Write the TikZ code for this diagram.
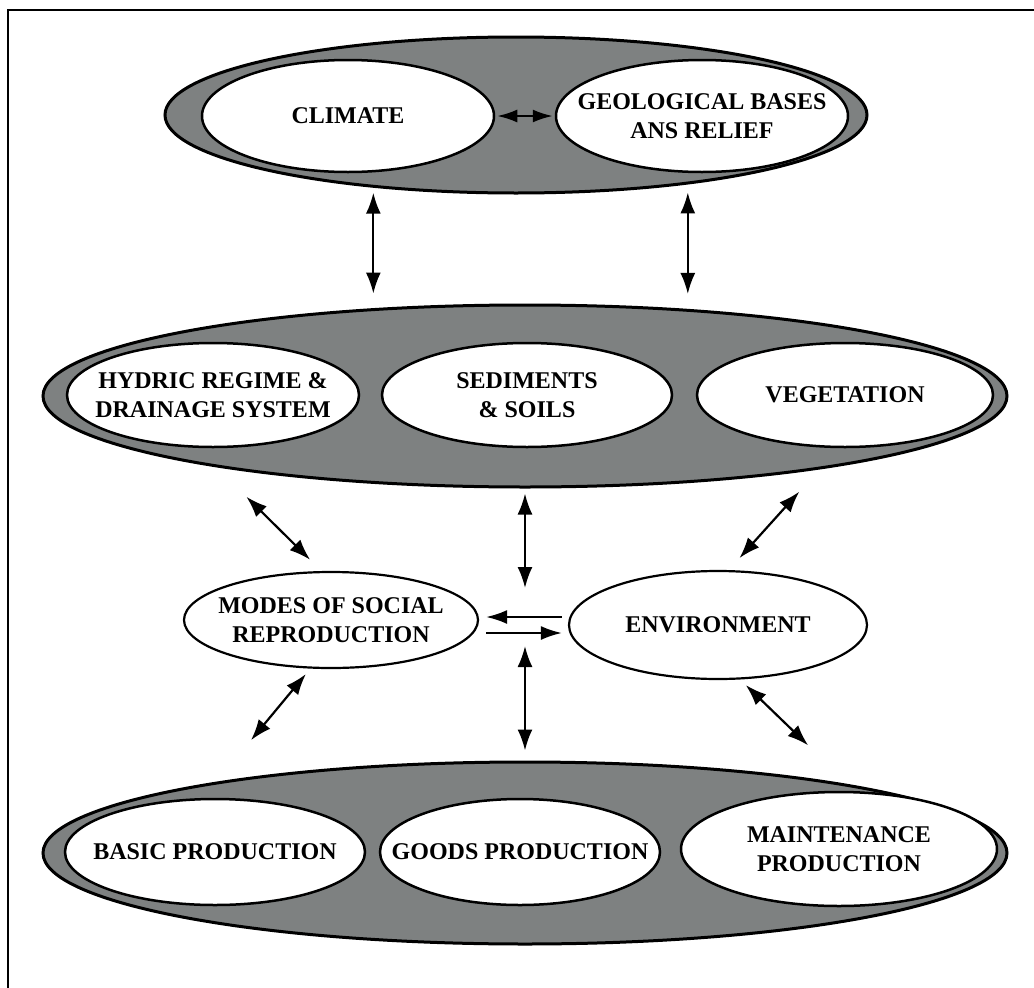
\documentclass[tikz,border=0pt]{standalone}
\usepackage{fontspec}
\setmainfont{Liberation Serif}
\usetikzlibrary{shapes.geometric,arrows.meta}
\definecolor{ringgray}{RGB}{126,129,129}
\begin{document}
\begin{tikzpicture}[x=1pt,y=-1pt,
  group/.style={ellipse, draw=black, line width=3pt, fill=ringgray, inner sep=0pt},
  item/.style={ellipse, draw=black, line width=2.5pt, fill=white, inner sep=0pt},
  lbl/.style={font=\fontsize{24}{29.5}\selectfont\bfseries, align=center, inner sep=0pt},
  arr/.style={{Latex[length=21pt,width=15pt]}-{Latex[length=21pt,width=15pt]}, line width=2.2pt},
  onearr/.style={-{Latex[length=21pt,width=14pt]}, line width=2.2pt}]
\useasboundingbox (0,0) rectangle (1034,988);
\fill[white] (0,0) rectangle (1034,988);
% frame
\draw[line width=2.8pt] (8,988) -- (8,10) -- (1034,10);

% top group
\node[group, minimum width=702pt, minimum height=156pt] (top) at (516,115) {};
\node[item, minimum width=292pt, minimum height=112pt] (clim) at (348,116) {};
\node[item, minimum width=292pt, minimum height=112pt] (geo) at (702,116) {};
\node[lbl] (climT) at (clim) {CLIMATE};
\node[lbl] (geoT) at (geo) {GEOLOGICAL BASES\\ANS RELIEF};

% middle group
\node[group, minimum width=964pt, minimum height=182pt] (mid) at (525,396) {};
\node[item, minimum width=292pt, minimum height=104pt] (hyd) at (213,395) {};
\node[item, minimum width=290pt, minimum height=104pt] (sed) at (527,395) {};
\node[item, minimum width=296pt, minimum height=104pt] (veg) at (845,395) {};
\node[lbl] (hydT) at (hyd) {HYDRIC REGIME \&\\DRAINAGE SYSTEM};
\node[lbl] (sedT) at (sed) {SEDIMENTS\\\& SOILS};
\node[lbl] (vegT) at (veg) {VEGETATION};

% centre row
\node[item, line width=2.2pt, minimum width=294pt, minimum height=96pt] (modes) at (331,620) {};
\node[item, line width=2.2pt, minimum width=298pt, minimum height=108pt] (env) at (718,625) {};
\node[lbl] (modesT) at (modes) {MODES OF SOCIAL\\REPRODUCTION};
\node[lbl] (envT) at (env) {ENVIRONMENT};
\coordinate (hub) at (525,620);

% bottom group
\node[group, minimum width=964pt, minimum height=182pt] (bot) at (525,853) {};
\node[item, minimum width=300pt, minimum height=106pt] (basic) at (215,852) {};
\node[item, minimum width=280pt, minimum height=106pt] (goods) at (520,852) {};
\node[item, minimum width=316pt, minimum height=114pt] (maint) at (839,849) {};
\node[lbl] (basicT) at (basic) {BASIC PRODUCTION};
\node[lbl] (goodsT) at (goods) {GOODS PRODUCTION};
\node[lbl] (maintT) at (maint) {MAINTENANCE\\PRODUCTION};

% arrows
\draw[line width=2.2pt, {Latex[length=20pt,width=13pt]}-{Latex[length=20pt,width=13pt]}, shorten <=2pt, shorten >=2pt] (clim.east) -- (geo.west);
\draw[arr, shorten <=5pt, shorten >=15pt] (top.207.5) -- (top.207.5 |- mid.151);
\draw[arr, shorten <=8pt, shorten >=15pt] (top.338) -- (top.338 |- mid.28.2);

\draw[arr, shorten <=42pt, shorten >=16pt] (mid.193.2) -- (modes.101.4);
\draw[arr, shorten <=30pt, shorten >=16pt] (mid.346.5) -- (env.79.3);
\draw[arr, shorten <=5pt, shorten >=32pt] (mid.south) -- (hub);

\draw[arr, shorten <=7pt, shorten >=54pt] (modes.247.6) -- (bot.167.1);
\draw[arr, shorten <=8pt, shorten >=56pt] (env.292) -- (bot.12.2);
\draw[arr, shorten <=26pt, shorten >=10pt] (hub) -- (bot.north);

\draw[onearr, shorten <=6pt, shorten >=7pt] ([yshift=8pt]env.west) -- ([yshift=3pt]modes.east);
\draw[onearr, shorten <=7pt, shorten >=6pt] ([yshift=-13pt]modes.east) -- ([yshift=-8pt]env.west);
\end{tikzpicture}
\end{document}
